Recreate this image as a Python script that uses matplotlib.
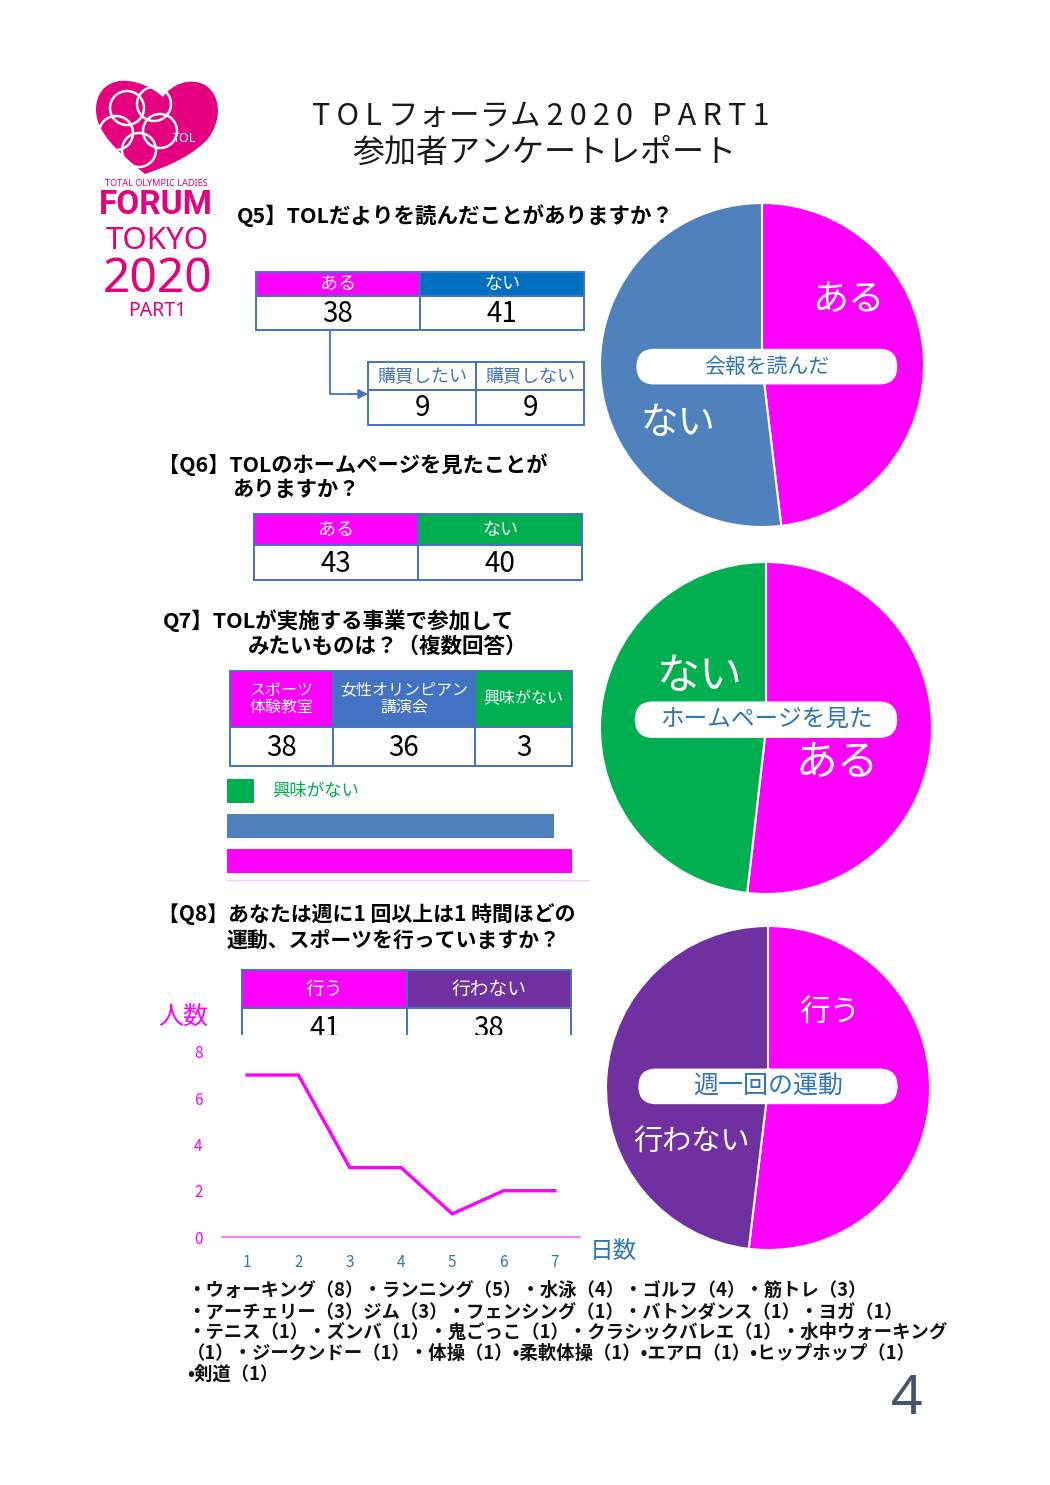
import matplotlib
matplotlib.use("Agg")
import matplotlib.pyplot as plt
from matplotlib.patches import Rectangle, FancyBboxPatch, Circle, PathPatch
from matplotlib.path import Path

plt.rcParams['font.family'] = ['Noto Sans CJK JP', 'DejaVu Sans']

# ---------------- data ----------------
q5_labels = ['ある', 'ない']
q5_values = [38, 41]
q5_sub_labels = ['購買したい', '購買しない']
q5_sub_values = [9, 9]
q6_labels = ['ある', 'ない']
q6_values = [43, 40]
q7_labels = ['スポーツ\n体験教室', '女性オリンピアン\n講演会', '興味がない']
q7_values = [38, 36, 3]
q8_labels = ['行う', '行わない']
q8_values = [41, 38]
q8_days = [1, 2, 3, 4, 5, 6, 7]
q8_counts = [7, 7, 3, 3, 1, 2, 2]
y_ticks = [0, 2, 4, 6, 8]
sports_lines = [
    '・ウォーキング（8）・ランニング（5）・水泳（4）・ゴルフ（4）・筋トレ（3）',
    '・アーチェリー（3）ジム（3）・フェンシング（1）・バトンダンス（1）・ヨガ（1）',
    '・テニス（1）・ズンバ（1）・鬼ごっこ（1）・クラシックバレエ（1）・水中ウォーキング',
    '（1）・ジークンドー（1）・体操（1）•柔軟体操（1）•エアロ（1）•ヒップホップ（1）',
    '•剣道（1）',
]

MAG = '#ff00ff'
PIE_BLUE = '#4f81bd'
DARK_BLUE = '#0070c0'
GREEN = '#00b050'
PURPLE = '#7030a0'
TBL_BLUE = '#4472c4'
TXT_BLUE = '#2e75b6'
LOGO = '#e4007f'

W, H = 1050, 1485
fig = plt.figure(figsize=(10.5, 14.85), dpi=100)
fig.patch.set_facecolor('white')


def fax(x0, y0, x1, y1):
    return fig.add_axes([x0 / W, 1 - y1 / H, (x1 - x0) / W, (y1 - y0) / H])


ov = fax(0, 0, W, H)
ov.set_xlim(0, W)
ov.set_ylim(H, 0)
ov.axis('off')

# ---------------- logo ----------------
verts = [(145, 174),
         (118, 152), (95, 132), (96, 108),
         (97, 88), (112, 79), (128, 81),
         (146, 83), (157, 92), (163, 97),
         (172, 84), (190, 77), (205, 85),
         (221, 95), (223, 121), (206, 141),
         (186, 160), (162, 168), (145, 174),
         (145, 174)]
codes = [Path.MOVETO] + [Path.CURVE4] * 18 + [Path.CLOSEPOLY]
ov.add_patch(PathPatch(Path(verts, codes), facecolor=LOGO, edgecolor='none'))
for (cx, cy) in [(127, 108), (154, 104), (116, 133), (160, 131), (139, 150)]:
    ov.add_patch(Circle((cx, cy), 17, facecolor='none', edgecolor='white', lw=1.8))
ov.text(185, 138, 'TOL', color='white', fontsize=9, ha='center', va='center',
        family='Noto Sans')
ov.text(156, 184, 'TOTAL OLYMPIC LADIES', color=LOGO, fontsize=6.6, ha='center',
        va='center', family='Noto Sans')
ov.text(156, 205, 'FORUM', color=LOGO, fontsize=24, ha='center', va='center',
        family=['Roboto', 'DejaVu Sans'], weight='bold')
ov.text(157, 241, 'TOKYO', color=LOGO, fontsize=22.5, ha='center', va='center',
        family='Noto Sans')
ov.text(158, 279, '2020', color=LOGO, fontsize=34.5, ha='center', va='center',
        family='Noto Sans')
ov.text(157, 311, 'PART1', color=LOGO, fontsize=14, ha='center', va='center',
        family='Noto Sans')

# ---------------- title ----------------
TS = '\u2009'
title1 = (TS.join('TOL') + TS + 'フォーラム' + TS + TS.join('2020')
          + ' ' + TS + TS + TS.join('PART1'))
ov.text(541, 116, title1, fontsize=22, ha='center', va='center',
        color='#1a1a1a')
ov.text(544, 153, '参加者アンケートレポート', fontsize=23, ha='center', va='center',
        color='#1a1a1a')


# ---------------- tables ----------------
def table(xs, y0, y1, y2, heads, faces, head_colors, values, hsize, vsize):
    for i in range(len(heads)):
        x0, x1 = xs[i], xs[i + 1]
        ov.add_patch(Rectangle((x0, y0), x1 - x0, y1 - y0, facecolor=faces[i],
                               edgecolor=TBL_BLUE, lw=1.4))
        ov.add_patch(Rectangle((x0, y1), x1 - x0, y2 - y1, facecolor='white',
                               edgecolor=TBL_BLUE, lw=1.4))
        ov.text((x0 + x1) / 2, (y0 + y1) / 2, heads[i], color=head_colors[i],
                fontsize=hsize, ha='center', va='center', linespacing=1.05)
        ov.text((x0 + x1) / 2, (y1 + y2) / 2 + 1, str(values[i]), color='black',
                fontsize=vsize, ha='center', va='center')


QS = 15.3
# Q5
ov.text(237, 216, 'Q5】TOLだよりを読んだことがありますか？', fontsize=15.5,
        weight='bold', ha='left', va='center')
table([256, 420, 584], 272, 296, 330, q5_labels, [MAG, DARK_BLUE],
      ['white', 'white'], q5_values, 13, 20)
table([368, 476, 584], 362, 390, 425, q5_sub_labels, ['white', 'white'],
      [TBL_BLUE, TBL_BLUE], q5_sub_values, 13, 20)
ov.plot([330, 330, 352], [330, 394, 394], color=TBL_BLUE, lw=1.3)
ov.annotate('', xy=(368, 394), xytext=(350, 394),
            arrowprops=dict(arrowstyle='-|>', color=TBL_BLUE, lw=1.3,
                            mutation_scale=14, shrinkA=0, shrinkB=0))

# Q6
ov.text(158, 465, '【Q6】TOLのホームページを見たことが', fontsize=QS,
        weight='bold', ha='left', va='center')
ov.text(232, 490, 'ありますか？', fontsize=QS, weight='bold', ha='left', va='center')
table([254, 418, 582], 514, 545, 580, q6_labels, [MAG, GREEN],
      ['white', 'white'], q6_values, 13, 20)

# Q7
ov.text(163, 621, 'Q7】TOLが実施する事業で参加して', fontsize=15.5,
        weight='bold', ha='left', va='center')
ov.text(248, 646, 'みたいものは？（複数回答）', fontsize=15.5, weight='bold',
        ha='left', va='center')
table([230, 333, 475, 572], 671, 727, 766, q7_labels, [MAG, TBL_BLUE, GREEN],
      ['white', 'white', 'white'], q7_values, 11.5, 20)

# Q8
ov.text(158, 914, '【Q8】あなたは週に1 回以上は1 時間ほどの', fontsize=15,
        weight='bold', ha='left', va='center')
ov.text(226, 940, '運動、スポーツを行っていますか？', fontsize=15, weight='bold',
        ha='left', va='center')
table([242, 407, 571], 970, 1008, 1048, q8_labels, [MAG, PURPLE],
      ['white', 'white'], q8_values, 13.5, 20)
ov.text(183, 1017, '人数', color=MAG, fontsize=18, ha='center', va='center')
ov.text(613, 1252, '日数', color=TXT_BLUE, fontsize=17, ha='center', va='center')

# sports list
for i, line in enumerate(sports_lines):
    ov.text(187, 1290 + i * 21.2, line, fontsize=13.2, weight='bold', ha='left',
            va='center', color='#111111')

ov.text(907, 1399, '4', fontsize=40, color='#44546a', ha='center', va='center',
        family='Noto Sans', weight='light')

# ---------------- Q7 bar chart ----------------
bx = fax(227, 775, 590, 880)
bx.barh(range(len(q7_values)), q7_values, height=0.7,
        color=[MAG, PIE_BLUE, GREEN])
bx.set_xlim(0, 40)
bx.set_ylim(-0.54, 2.45)
for s in ['top', 'right', 'left']:
    bx.spines[s].set_visible(False)
bx.spines['bottom'].set_color('#f5d0f0')
bx.set_xticks([])
bx.set_yticks([])
bx.annotate(q7_labels[2], xy=(q7_values[2], 2), xytext=(13, 0),
            textcoords='offset points', color=GREEN, fontsize=12.5,
            ha='left', va='center')

# ---------------- Q8 line chart ----------------
lx = fax(222, 1035, 580, 1237)
lx.set_facecolor('white')
lx.plot(q8_days, q8_counts, color=MAG, lw=2.4, solid_joinstyle='miter')
lx.set_xlim(0.51, 7.49)
lx.set_ylim(0, 8.73)
for s in ['top', 'right', 'left']:
    lx.spines[s].set_visible(False)
lx.spines['bottom'].set_color('#ff66ff')
lx.spines['bottom'].set_linewidth(1.2)
lx.set_yticks(y_ticks)
lx.set_xticks(q8_days)
lx.tick_params(axis='y', length=0, pad=14, labelcolor=MAG, labelsize=11)
lx.tick_params(axis='x', length=0, pad=12, labelcolor=TXT_BLUE, labelsize=11)


# ---------------- pies ----------------
def pie(cx, cy, r, values, colors, labels, label_pos, label_sizes,
        box_text, box_center, box_w, box_size):
    ax = fax(cx - r * 1.02, cy - r * 1.02, cx + r * 1.02, cy + r * 1.02)
    ax.pie(values, colors=colors, startangle=90, counterclock=False,
           wedgeprops=dict(edgecolor='white', linewidth=1.5))
    ax.set_xlim(-1.02, 1.02)
    ax.set_ylim(-1.02, 1.02)
    ax.set_aspect('equal')
    for lab, (px, py), sz in zip(labels, label_pos, label_sizes):
        ax.text(px, py, lab, color='white', fontsize=sz, ha='center', va='center')
    bh = 0.22
    ax.add_patch(FancyBboxPatch((box_center[0] - box_w / 2, box_center[1] - bh / 2),
                                box_w, bh,
                                boxstyle='round,pad=0,rounding_size=0.11',
                                facecolor='white', edgecolor='none'))
    ax.text(box_center[0], box_center[1], box_text, color=TXT_BLUE,
            fontsize=box_size, ha='center', va='center')


pie(762, 365, 162, q5_values, [MAG, PIE_BLUE], q5_labels,
    [(0.53, 0.40), (-0.52, -0.36)], [26, 27], '会報を読んだ', (0.03, -0.01),
    1.61, 15)
pie(766, 728, 166, q6_values, [MAG, GREEN], q6_labels,
    [(0.43, -0.21), (-0.40, 0.31)], [30, 31], 'ホームページを見た', (0.0, 0.05),
    1.58, 17)
pie(768, 1088, 162, q8_values, [MAG, PURPLE], q8_labels,
    [(0.38, 0.46), (-0.47, -0.33)], [22, 21], '週一回の運動', (0.0, 0.01),
    1.6, 18)

fig.savefig('out.png', dpi=100, facecolor='white')
